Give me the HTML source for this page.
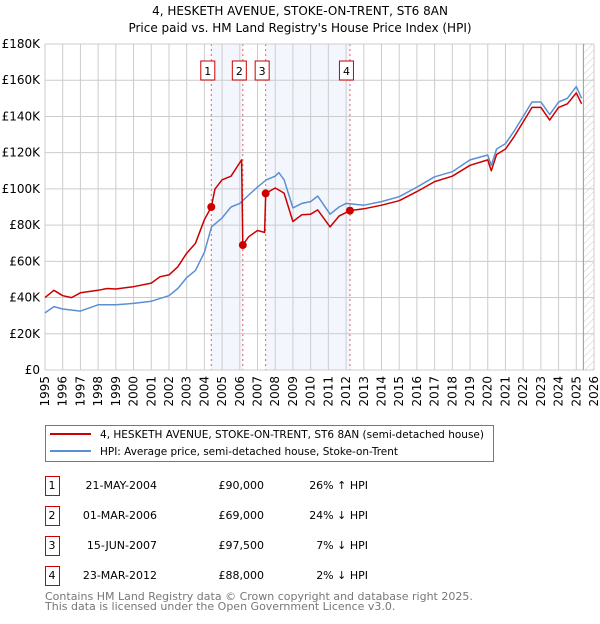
<!DOCTYPE html>
<html><head><meta charset="utf-8"><style>
body{margin:0;background:#fff;font-family:"DejaVu Sans","Liberation Sans",sans-serif;}
svg text{font-family:"DejaVu Sans","Liberation Sans",sans-serif;}
</style></head><body>
<svg id="c" width="600" height="620" xmlns="http://www.w3.org/2000/svg">
<text x="300" y="15" text-anchor="middle" font-size="12">4, HESKETH AVENUE, STOKE-ON-TRENT, ST6 8AN</text>
<text x="300" y="32" text-anchor="middle" font-size="12">Price paid vs. HM Land Registry's House Price Index (HPI)</text>
<defs><pattern id="hatch" width="5" height="5" patternUnits="userSpaceOnUse" patternTransform="rotate(45)"><line x1="0" y1="0" x2="0" y2="5" stroke="#ccc" stroke-width="1"/></pattern></defs>
<g id="shade"></g><g id="grid"></g><g id="lines"></g><g id="marks"></g><g id="axes"></g>
<g>
<rect x="45.5" y="425.5" width="448" height="36" fill="#fff" stroke="#777"/>
<line x1="50" y1="434" x2="91" y2="434" stroke="#cc0000" stroke-width="2"/>
<text x="100" y="438" font-size="11" textLength="384" lengthAdjust="spacingAndGlyphs">4, HESKETH AVENUE, STOKE-ON-TRENT, ST6 8AN (semi-detached house)</text>
<line x1="50" y1="451" x2="91" y2="451" stroke="#5b8fd4" stroke-width="2"/>
<text x="100" y="455" font-size="11" textLength="298" lengthAdjust="spacingAndGlyphs">HPI: Average price, semi-detached house, Stoke-on-Trent</text>
</g>
<g id="table" font-size="11"></g>
<text x="45" y="600" font-size="11" fill="#777">Contains HM Land Registry data © Crown copyright and database right 2025.</text>
<text x="45" y="610" font-size="11" fill="#777">This data is licensed under the Open Government Licence v3.0.</text>
</svg>
<script>
const hpiYears=[1995,1995.5,1996,1997,1998,1999,2000,2001,2002,2002.5,2003,2003.5,2004,2004.4,2005,2005.5,2006,2006.5,2007,2007.5,2008,2008.2,2008.5,2009,2009.5,2010,2010.4,2011.1,2011.6,2012,2013,2014,2015,2016,2017,2018,2019,2020,2020.2,2020.5,2021,2021.5,2022,2022.5,2023,2023.5,2024,2024.5,2025,2025.3];
const hpiValues=[31.5,35,33.7,32.5,36,36,36.8,38,41,45,51,55,65,79,84,90,92,96.6,101,105,107,109,105,89.5,92,93,96,86,90,92,91,93,95.7,101,106.7,109.5,116,118.7,113,122,125,132,140,148,148,141,148,150,156.5,150];
const priceYears=[1995,1995.5,1996,1996.5,1997,1998,1998.5,1999,2000,2001,2001.5,2002,2002.5,2003,2003.5,2004,2004.39,2004.6,2005,2005.5,2006.1,2006.17,2006.5,2007,2007.4,2007.46,2008,2008.5,2009,2009.5,2010,2010.4,2011.1,2011.6,2012.22,2013,2014,2015,2016,2017,2018,2019,2020,2020.2,2020.5,2021,2021.5,2022,2022.5,2023,2023.5,2024,2024.5,2025,2025.3];
const priceValues=[40,44,41,40,42.6,44,45,44.7,46,48,51.5,52.5,57,64.5,70,83,90,100,105,107,116,69,73.6,77,76,97.5,100.5,97.7,82,85.7,86,88.4,79,85,88,89,91,93.5,98.5,104,107,113,116,110,119,122,129,137,145,145,138,145,147,153,147];
const saleLabels=["1","2","3","4"];
const saleYears=[2004.39,2006.17,2007.46,2012.22];
const salePrices=[90,69,97.5,88];
const saleDates=["21-MAY-2004","01-MAR-2006","15-JUN-2007","23-MAR-2012"];
const salePriceText=["£90,000","£69,000","£97,500","£88,000"];
const saleHpiText=["26% ↑ HPI","24% ↓ HPI","7% ↓ HPI","2% ↓ HPI"];
const yTicks=[0,20,40,60,80,100,120,140,160,180];
const yTickLabels=["£0","£20K","£40K","£60K","£80K","£100K","£120K","£140K","£160K","£180K"];
const shadeRanges=[[2004.39,2006.17],[2007.46,2012.22]];

const X0=45,X1=594,Y0=370,Y1=44;
const xs=y=>X0+(y-1995)/31*(X1-X0);
const ys=v=>Y0-v/180*(Y0-Y1);
const NS="http://www.w3.org/2000/svg";
function mk(p,t,a){const e=document.createElementNS(NS,t);for(const k in a)e.setAttribute(k,a[k]);p.appendChild(e);return e;}
const g=id=>document.getElementById(id);

shadeRanges.forEach((r,i)=>{
 const e=mk(g('shade'),'rect',{x:xs(r[0]),y:Y1,width:xs(r[1])-xs(r[0]),height:Y0-Y1,fill:'#eef3fc',opacity:0.7});
 
 
});
const ht=mk(g('shade'),'rect',{x:xs(2025.4),y:Y1,width:X1-xs(2025.4),height:Y0-Y1,fill:'url(#hatch)'});



for(let y=1995;y<=2026;y++){
 const e=mk(g('grid'),'line',{x1:xs(y),x2:xs(y),y1:Y1,y2:Y0,stroke:'#cccccc','stroke-width':1});
 
 
 const t=mk(g('axes'),'text',{x:0,y:0,'font-size':12,'text-anchor':'end',transform:`translate(${xs(y)+4},${Y0+6}) rotate(-90)`});
 t.textContent=y;
 
 
}
yTicks.forEach((v,i)=>{
 const e=mk(g('grid'),'line',{x1:X0,x2:X1,y1:ys(v),y2:ys(v),stroke:'#cccccc','stroke-width':1});
 
 
 const t=mk(g('axes'),'text',{x:X0-5,y:ys(v)+4,'font-size':12,'text-anchor':'end'});
 t.textContent=yTickLabels[i];
 
 
});
const lx=mk(g('grid'),'line',{x1:xs(2025.4),x2:xs(2025.4),y1:Y1,y2:Y0,stroke:'#999','stroke-width':1});



saleYears.forEach((yr,i)=>{
 const l=mk(g('shade'),'line',{x1:xs(yr),x2:xs(yr),y1:Y1,y2:Y0,stroke:'#e06060','stroke-width':1,'stroke-dasharray':'2,3'});
 
 
});

function path(xa,va,col,name){
 const d=xa.map((x,i)=>(i?'L':'M')+xs(x).toFixed(1)+','+ys(va[i]).toFixed(1)).join('');
 const e=mk(g('lines'),'path',{d:d,fill:'none',stroke:col,'stroke-width':1.5,'stroke-linejoin':'round'});
 
 
}
path(hpiYears,hpiValues,'#5b8fd4','hpi-line');
path(priceYears,priceValues,'#cc0000','price-line');

saleYears.forEach((yr,i)=>{
 const c=mk(g('marks'),'circle',{cx:xs(yr),cy:ys(salePrices[i]),r:4,fill:'#cc0000'});
 
 
 const r=mk(g('marks'),'rect',{x:xs(yr)-10.5,y:61,width:14,height:19,fill:'#fff',stroke:'#cc0000'});
 
 
 const t=mk(g('marks'),'text',{x:xs(yr)-3.5,y:75,'font-size':11,'text-anchor':'middle'});
 t.textContent=saleLabels[i];
 
 
});

saleLabels.forEach((lab,i)=>{
 const y=476+i*30;
 const r=mk(g('table'),'rect',{x:45.5,y:y+0.5,width:14,height:19,fill:'#fff',stroke:'#cc0000'});
 
 
 const cells=[[52,lab,'middle','table-index'],[157,saleDates[i],'end','table-date'],[264,salePriceText[i],'end','table-price'],[368,saleHpiText[i],'end','table-hpi-diff']];
 cells.forEach(c=>{
  const t=mk(g('table'),'text',{x:c[0],y:y+13,'text-anchor':c[2]});
  t.textContent=c[1];
  
  
 });
});
</script>
</body></html>
